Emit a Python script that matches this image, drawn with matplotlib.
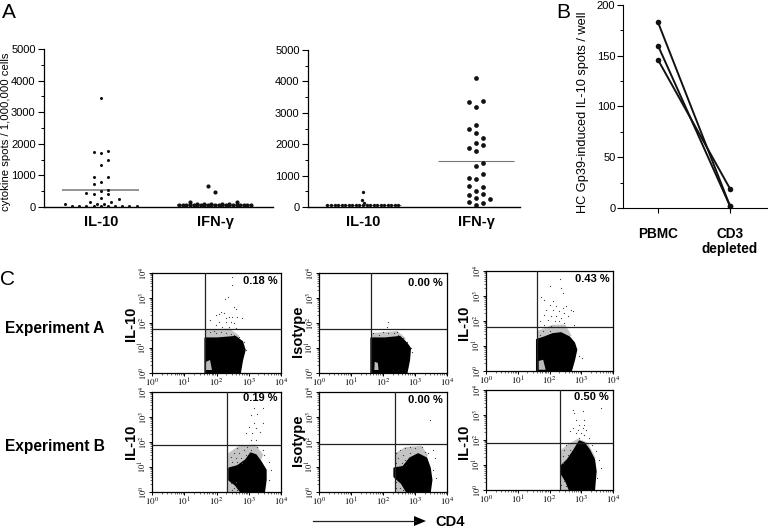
import numpy as np
import matplotlib
matplotlib.use('Agg')
from matplotlib import pyplot as plt
from matplotlib.ticker import FixedLocator, NullFormatter

plt.rcParams['font.family'] = ['Liberation Sans', 'DejaVu Sans']
plt.rcParams['mathtext.fontset'] = 'stix'

W, H = 768, 529

# Panel A, left: offsets are in dot columns around each category
a1_il10_col = [0, -1, 0, 1, 1, 0, -1, 1, 0, -1, 0, 1, -2, -1, 1, 2.5, 0, -1.5, 1.5, -5, -0.5, 0.5,
               -4, -3, -2, -1, 0, 1, 2, 3, 4, 5]
a1_il10 = [3440, 1740, 1700, 1780, 1490, 1340, 940, 940, 800, 730, 520, 530, 440, 400, 400, 250, 280,
           160, 160, 85, 85, 85, 30, 30, 30, 30, 30, 30, 30, 30, 30, 30]
a1_ifn_col = [-5, -4.5, -4, -3.5, -3, -2.5, -2, -1.5, -1, -0.5, 0, 0.5, 1, 1.5, 2, 2.5, 3, 3.5, 4, 4.5, 5,
              -3.5, -2.5, -1.5, -0.5, 1, 2, 3, -1, 0]
a1_ifn = [50] * 21 + [160, 110, 110, 110, 100, 110, 160, 650, 460]
a1_means = [550, 50]

# Panel A, right
a2_il10_col = [-5, -4.5, -4, -3.5, -3, -2.5, -2, -1.5, -1, -0.5, 0, 0.5, 1, 1.5, 2, 2.5, 3, 3.5, 4, 4.5, 5,
               0, -0.2, 0.2]
a2_il10 = [50] * 21 + [490, 220, 140]
a2_ifn_col = [0, 1, -1, 0, 0, -1, 0, 1, 0, 1, -1, 0, 1, 0, 1, -1, 0, -1, 1, 0, 1, -1, 0, 2, -1, 1, 0]
a2_ifn = [4100, 3390, 3330, 3170, 2610, 2480, 2370, 2200, 2050, 1980, 1880, 1790, 1410, 1310, 1050,
          910, 880, 670, 640, 510, 425, 370, 275, 265, 170, 130, 50]
a2_means = [50, 1450]

a_categories = ['IL-10', 'IFN-\u03b3']

# Panel B
b_categories = ['PBMC', 'CD3\ndepleted']
b_pbmc = [183, 160, 146]
b_cd3 = [2, 2, 19]

# Panel C: all flow values in log10 decades
c_titles = [['IL-10', 'Isotype', 'IL-10'], ['IL-10', 'Isotype', 'IL-10']]
c_percent = [['0.18 %', '0.00 %', '0.43 %'], ['0.19 %', '0.00 %', '0.50 %']]
c_gate_x = [[1.63, 1.63, 1.62], [2.34, 2.36, 2.34]]
c_gate_y = [[1.76, 1.76, 1.77], [1.89, 1.91, 1.89]]

blob_a1 = [(1.65, 0), (1.65, 1.39), (2.02, 1.39), (2.59, 1.45), (2.80, 1.25), (2.88, 0.92), (2.80, 0.52), (2.73, 0)]
blob_a2 = [(1.63, 0), (1.63, 1.39), (2.06, 1.39), (2.53, 1.45), (2.74, 1.19), (2.85, 0.99), (2.82, 0.52), (2.74, 0)]
blob_a3 = [(1.60, 0), (1.60, 1.25), (1.84, 1.35), (2.10, 1.48), (2.36, 1.52), (2.63, 1.35), (2.78, 1.12),
           (2.85, 0.85), (2.78, 0.45), (2.68, 0)]
blob_b1 = [(2.39, 0.95), (2.65, 1.04), (2.91, 1.28), (3.06, 1.55), (3.22, 1.48), (3.375, 1.21), (3.53, 0.88),
           (3.53, 0.48), (3.48, 0.01), (2.75, 0.01), (2.59, 0.28), (2.39, 0.48)]
blob_b2 = [(2.35, 0.95), (2.63, 1.01), (2.84, 1.35), (3.10, 1.52), (3.36, 1.35), (3.47, 0.95), (3.52, 0.48),
           (3.47, 0.01), (2.74, 0.01), (2.58, 0.35), (2.35, 0.61)]
blob_b3 = [(2.36, 0.95), (2.57, 1.21), (2.78, 1.61), (2.94, 1.95), (3.09, 1.88), (3.25, 1.61), (3.41, 1.21),
           (3.46, 0.75), (3.41, 0.01), (2.63, 0.01), (2.52, 0.35), (2.36, 0.68)]

# thin speckled zone around each dense cloud
haze_a1 = [(1.65, 1.35), (1.65, 1.72), (2.4, 1.78), (2.7, 1.5), (2.7, 1.35)]
haze_a2 = [(1.63, 1.35), (1.63, 1.6), (2.45, 1.68), (2.7, 1.4), (2.7, 1.3)]
haze_a3 = [(1.62, 1.2), (1.62, 1.6), (2.1, 1.85), (2.5, 1.85), (2.7, 1.4)]
haze_b1 = [(2.36, 0), (2.36, 1.55), (2.7, 1.85), (3.2, 1.9), (3.45, 1.5), (3.3, 1.0), (2.8, 0)]
haze_b2 = [(2.38, 0), (2.38, 1.55), (2.7, 1.8), (3.2, 1.85), (3.4, 1.5), (3.3, 1.0), (2.8, 0)]
haze_b3 = [(2.36, 0), (2.36, 1.6), (2.6, 1.85), (2.9, 2.05), (3.2, 1.9), (3.45, 1.3), (3.3, 0.6), (2.8, 0)]

hole_a1 = [(1.66, 0.12), (1.86, 0.12), (1.80, 0.52), (1.68, 0.45)]
hole_a2 = [(1.73, 0.12), (1.86, 0.12), (1.84, 0.40), (1.74, 0.45)]
hole_a3 = [(1.66, 0.05), (1.88, 0.05), (1.80, 0.45), (1.66, 0.40)]

dots_a1 = [(2.49, 3.85), (2.47, 3.52), (2.35, 3.03), (2.25, 2.95), (2.54, 2.65), (2.59, 2.55), (2.13, 2.45),
           (2.23, 2.39), (2.07, 2.35), (1.97, 2.32), (2.39, 2.25), (2.49, 2.25), (2.28, 2.19), (2.65, 2.23),
           (2.80, 2.19), (1.81, 2.12), (2.07, 2.05), (2.28, 2.05), (2.44, 2.05), (2.54, 1.99), (1.97, 1.92),
           (2.18, 1.85), (2.39, 1.85), (2.59, 1.79), (1.81, 1.65), (1.97, 1.59), (2.13, 1.65), (2.28, 1.59),
           (2.44, 1.56), (2.54, 1.52), (1.92, 1.69), (2.70, 1.45), (2.85, 1.25), (2.91, 0.92)]
dots_a2 = [(2.15, 2.05), (2.12, 1.85), (1.70, 1.59), (1.86, 1.52), (2.01, 1.65), (2.17, 1.59), (2.33, 1.61),
           (2.43, 1.65), (2.48, 1.52), (1.75, 1.45), (2.64, 1.39), (2.74, 1.25), (2.87, 0.99), (2.90, 0.85)]
dots_a3 = [(2.33, 3.69), (2.00, 3.39), (2.36, 3.32), (2.42, 3.12), (1.74, 2.95), (1.84, 2.85), (2.10, 2.79),
           (2.00, 2.65), (2.21, 2.59), (2.42, 2.52), (2.52, 2.59), (2.68, 2.45), (1.90, 2.45), (2.10, 2.45),
           (2.29, 2.39), (2.47, 2.32), (2.73, 2.39), (1.84, 2.25), (2.05, 2.19), (2.21, 2.19), (2.36, 2.12),
           (2.57, 2.19), (1.69, 1.99), (1.95, 2.05), (2.16, 1.99), (2.31, 1.99), (2.47, 1.92), (2.78, 1.83),
           (1.84, 1.85), (2.05, 1.79), (2.26, 1.75), (2.42, 1.75), (1.79, 1.59), (2.00, 1.59), (1.69, 1.45),
           (2.94, 0.59), (3.01, 0.52)]
dots_b1 = [(3.17, 3.35), (3.43, 3.35), (3.08, 3.08), (3.27, 3.12), (3.17, 2.75), (3.43, 2.75), (3.01, 2.61),
           (3.22, 2.55), (2.91, 2.35), (3.11, 2.35), (3.35, 2.41), (3.06, 2.08), (3.22, 2.08), (2.80, 1.88),
           (2.96, 1.81), (3.11, 1.88), (3.27, 1.81), (3.43, 1.68), (2.65, 1.75), (2.85, 1.68), (3.06, 1.68),
           (2.54, 1.55), (2.70, 1.55), (2.91, 1.48), (2.44, 1.41), (2.59, 1.35), (2.75, 1.35), (2.49, 1.21),
           (2.65, 1.21), (2.80, 1.15), (3.48, 1.48), (3.63, 1.21), (3.69, 0.88), (3.63, 0.48), (2.44, 0.35),
           (2.54, 0.15), (2.65, 0.08), (2.49, 0.08), (2.59, 0.41)]
dots_b2 = [(3.47, 2.88), (2.69, 1.75), (2.84, 1.81), (3.00, 1.75), (3.21, 1.81), (2.53, 1.68), (3.31, 1.61),
           (2.42, 1.55), (2.63, 1.48), (2.84, 1.55), (2.48, 1.35), (2.69, 1.28), (2.42, 1.15), (3.41, 1.55),
           (3.62, 1.35), (3.57, 0.88), (3.67, 0.55), (2.42, 0.41), (2.53, 0.15), (2.42, 0.15), (2.63, 0.08),
           (3.57, 1.68), (2.58, 1.15)]
dots_b3 = [(2.73, 3.21), (3.04, 3.17), (3.61, 3.28), (2.78, 3.08), (2.83, 2.81), (3.09, 2.81), (2.94, 2.61),
           (3.09, 2.61), (2.73, 2.48), (2.89, 2.41), (3.04, 2.48), (3.15, 2.41), (2.63, 2.35), (2.83, 2.28),
           (2.99, 2.28), (3.09, 2.21), (2.94, 2.08), (3.25, 2.08), (2.52, 1.81), (2.68, 1.88), (3.35, 1.81),
           (2.47, 1.61), (2.63, 1.61), (3.46, 1.55), (2.42, 1.35), (2.57, 1.41), (3.56, 1.21), (3.61, 0.88),
           (2.42, 1.08), (2.42, 0.48), (2.36, 0.21), (2.52, 0.15), (2.47, 0.35), (3.51, 0.48)]

c_blobs = [[blob_a1, blob_a2, blob_a3], [blob_b1, blob_b2, blob_b3]]
c_hazes = [[haze_a1, haze_a2, haze_a3], [haze_b1, haze_b2, haze_b3]]
c_holes = [[hole_a1, hole_a2, hole_a3], [None, None, None]]
c_dots = [[dots_a1, dots_a2, dots_a3], [dots_b1, dots_b2, dots_b3]]


def fx(px):
    return px / W


def fy(py):
    return 1 - py / H


def axes_px(left, top, right, bottom):
    return fig.add_axes([fx(left), fy(bottom), (right - left) / W, (bottom - top) / H])


def dot_panel(box, xlim, il10_col, il10, ifn_col, ifn, means, sizes, mean_lw):
    ax = axes_px(*box)
    step = 0.0627
    ax.plot(1 + np.array(il10_col) * step, il10, 'o', ms=sizes[0], color='#111111', mew=0, clip_on=False, zorder=3)
    ax.plot(2 + np.array(ifn_col) * step, ifn, 'o', ms=sizes[1], color='#111111', mew=0, clip_on=False, zorder=3)
    ax.hlines(means, [0.665, 1.665], [1.335, 2.335], color='#777777', lw=mean_lw, zorder=2)
    ax.set_xlim(xlim)
    ax.set_ylim(0, 5000)
    ax.set_yticks([0, 1000, 2000, 3000, 4000, 5000])
    ax.set_yticks([500, 1500, 2500, 3500, 4500], minor=True)
    ax.set_xticks([1, 2])
    ax.set_xticklabels(a_categories, fontsize=10.5, fontweight='bold')
    ax.tick_params(axis='x', length=0, pad=6)
    ax.tick_params(axis='y', which='major', length=4.5, width=0.8, labelsize=8, pad=1.5)
    ax.tick_params(axis='y', which='minor', length=2.5, width=0.7)
    for s in ['top', 'right']:
        ax.spines[s].set_visible(False)
    ax.spines['left'].set_linewidth(0.9)
    ax.spines['bottom'].set_linewidth(1.0)
    return ax


def flow_panel(box, row, col, pct_y):
    ax = axes_px(*box)
    haze = np.array(c_hazes[row][col])
    ax.fill(10 ** haze[:, 0], 10 ** haze[:, 1], color='#c4c4c4', lw=0, zorder=1)
    blob = np.array(c_blobs[row][col])
    ax.fill(10 ** blob[:, 0], 10 ** blob[:, 1], color='black', lw=1.2, joinstyle='round', zorder=2)
    if c_holes[row][col] is not None:
        hole = np.array(c_holes[row][col])
        ax.fill(10 ** hole[:, 0], 10 ** hole[:, 1], color='#bbbbbb', lw=0, zorder=3)
    dots = np.array(c_dots[row][col])
    ax.plot(10 ** dots[:, 0], 10 ** dots[:, 1], 's', ms=0.8, color='#444444', mew=0, zorder=4)
    ax.axvline(10 ** c_gate_x[row][col], color='#222222', lw=0.9, zorder=5)
    ax.axhline(10 ** c_gate_y[row][col], color='#222222', lw=0.9, zorder=5)
    ax.set_xscale('log')
    ax.set_yscale('log')
    ax.set_xlim(1, 1e4)
    ax.set_ylim(1, 1e4)
    major = [1, 10, 100, 1000, 10000]
    labels = ['$10^{%d}$' % i for i in range(5)]
    minor = [m * d for d in major[:-1] for m in range(2, 10)]
    for axis in [ax.xaxis, ax.yaxis]:
        axis.set_major_locator(FixedLocator(major))
        axis.set_minor_locator(FixedLocator(minor))
        axis.set_minor_formatter(NullFormatter())
    ax.set_xticklabels(labels, fontsize=6.5)
    ax.set_yticklabels(labels, fontsize=6, rotation=90, va='center')
    ax.tick_params(which='major', length=2, width=0.7, pad=0.5)
    ax.tick_params(which='minor', length=1.2, width=0.4)
    for s in ax.spines.values():
        s.set_linewidth(0.9)
    ax.text(0.97, pct_y, c_percent[row][col], transform=ax.transAxes, ha='right', va='center',
            fontsize=8, fontweight='bold', zorder=6)
    return ax


fig = plt.figure(figsize=(W / 100, H / 100), dpi=100)

# A
dot_panel((44, 49, 273, 207), (0.504, 2.507), a1_il10_col, a1_il10, a1_ifn_col, a1_ifn, a1_means, (2.2, 3.0), 1.1)
dot_panel((308, 50, 520, 207), (0.515, 2.386), a2_il10_col, a2_il10, a2_ifn_col, a2_ifn, a2_means, (2.4, 3.4), 0.8)
fig.text(fx(6), fy(132), 'cytokine spots / 1,000,000 cells', rotation=90, fontsize=8.2, ha='center', va='center')

# B
ax_b = axes_px(623, 5, 768, 208)
for start, end in zip(b_pbmc, b_cd3):
    ax_b.plot([0, 1], [start, end], '-o', color='#111111', lw=1.4, ms=4, mew=0, clip_on=False)
ax_b.set_xlim(-0.486, 1.528)
ax_b.set_ylim(0, 200)
ax_b.set_yticks([0, 50, 100, 150, 200])
ax_b.set_yticks([25, 75, 125, 175], minor=True)
ax_b.set_xticks([0, 1])
ax_b.set_xticklabels(b_categories, fontsize=9.8, fontweight='bold', linespacing=1.15)
ax_b.tick_params(axis='x', length=3.5, width=0.8, pad=10)
ax_b.tick_params(axis='y', which='major', length=4, width=0.8, labelsize=8, pad=1.5)
ax_b.tick_params(axis='y', which='minor', length=2.5, width=0.7)
for s in ['top', 'right']:
    ax_b.spines[s].set_visible(False)
fig.text(fx(583), fy(112), 'HC Gp39-induced IL-10 spots / well', rotation=90, fontsize=9.2, ha='center', va='center')

# C
flow_boxes = [[(152, 273, 281, 373), (319, 273, 447, 373), (486, 271, 613, 371)],
              [(152, 392, 281, 492), (319, 392, 447, 492), (486, 390, 613, 490)]]
title_pos = [[(131, 324), (298, 331), (464, 323)], [(131, 442), (298, 440), (464, 442)]]
pct_pos = [[0.92, 0.90, 0.92], [0.94, 0.92, 0.93]]
for r in range(2):
    for c in range(3):
        flow_panel(flow_boxes[r][c], r, c, pct_pos[r][c])
        fig.text(fx(title_pos[r][c][0]), fy(title_pos[r][c][1]), c_titles[r][c], rotation=90,
                 fontsize=10.5, fontweight='bold', ha='center', va='center')

fig.text(fx(5), fy(329), 'Experiment A', fontsize=11.2, fontweight='bold', ha='left', va='center')
fig.text(fx(5), fy(446), 'Experiment B', fontsize=11.2, fontweight='bold', ha='left', va='center')

fig.text(fx(2), fy(18), 'A', fontsize=15, ha='left', va='baseline')
fig.text(fx(556), fy(18), 'B', fontsize=15, ha='left', va='baseline')
fig.text(fx(0), fy(285), 'C', fontsize=15, ha='left', va='baseline')

fig.add_artist(plt.Line2D([fx(313), fx(416)], [fy(521), fy(521)], color='#222222', lw=0.9))
fig.add_artist(plt.Polygon([(fx(414), fy(516)), (fx(426), fy(521)), (fx(414), fy(526))],
                           closed=True, color='black', lw=0, transform=fig.transFigure))
fig.text(fx(435), fy(522), 'CD4', fontsize=10.5, fontweight='bold', ha='left', va='center')

fig.savefig('out.png', dpi=100)
